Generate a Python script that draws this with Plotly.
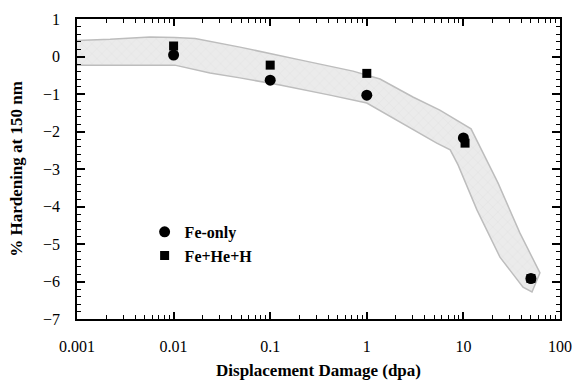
import plotly.graph_objects as go

# Data
fe_only_x = [0.01, 0.1, 1, 10, 50]
fe_only_y = [0.04, -0.63, -1.03, -2.17, -5.92]
fe_he_h_x = [0.01, 0.1, 1, 10.4, 50]
fe_he_h_y = [0.28, -0.23, -0.45, -2.31, -5.92]

# scatter band polygon (dpa, % hardening)
band_x = [0.00093, 0.001, 0.0022, 0.0057, 0.0103, 0.0167, 0.0486, 0.107, 0.203, 0.72,
          1.37, 3.0, 5.7, 12.0, 22.8, 38.5, 62, 51.3, 41.4, 23.9, 13.8, 8.8, 7.3, 5.3,
          1.37, 1.0, 0.416, 0.126, 0.0486, 0.0238, 0.0103, 0.001, 0.00093]
band_y = [0.09, 0.43, 0.46, 0.52, 0.51, 0.48, 0.25, 0.07, -0.09, -0.39,
          -0.6, -1.08, -1.43, -1.93, -3.37, -4.71, -5.77, -6.28, -6.15, -5.35, -4.09, -2.89, -2.49, -2.31,
          -1.45, -1.24, -1.03, -0.76, -0.57, -0.44, -0.23, -0.23, 0.09]

x_tickvals = [0.001, 0.01, 0.1, 1, 10, 100]
x_ticktext = ["0.001", "0.01", "0.1", "1", "10", "100"]
y_tickvals = [1, 0, -1, -2, -3, -4, -5, -6, -7]

FONT = "Liberation Serif"

fig = go.Figure()
fig.add_trace(go.Scatter(
    x=band_x, y=band_y, mode="lines", fill="toself",
    fillcolor="#ebebeb",
    fillpattern=dict(shape="x", fgcolor="#cdcdcd", bgcolor="#ebebeb", size=7, solidity=0.1),
    line=dict(color="#bdbdbd", width=1.5),
    showlegend=False, hoverinfo="skip"))
fig.add_trace(go.Scatter(
    x=fe_he_h_x, y=fe_he_h_y, mode="markers", name="Fe+He+H",
    marker=dict(symbol="square", size=9, color="black")))
fig.add_trace(go.Scatter(
    x=fe_only_x, y=fe_only_y, mode="markers", name="Fe-only",
    marker=dict(symbol="circle", size=11, color="black")))

fig.update_layout(
    width=573, height=382,
    margin=dict(l=77, r=13, t=19, b=63),
    paper_bgcolor="white", plot_bgcolor="white",
    font=dict(family=FONT, color="black", size=16),
    legend=dict(x=0.14, y=0.347, xanchor="left", yanchor="top",
                traceorder="reversed",
                font=dict(family=FONT, size=16, color="black", weight="bold"),
                bgcolor="rgba(0,0,0,0)", itemwidth=30, tracegroupgap=0),
    showlegend=True,
)
fig.update_xaxes(
    type="log", range=[-3, 2], automargin=False,
    tickvals=x_tickvals, ticktext=x_ticktext,
    ticks="inside", ticklen=7, tickwidth=1.5, tickcolor="black",
    showline=True, linecolor="black", linewidth=1.5, mirror="allticks",
    showgrid=False, zeroline=False,
    minor=dict(ticks="inside", ticklen=4, tickwidth=1.2, tickcolor="black",
               tickvals=[m * 10 ** e for e in range(-3, 2) for m in range(2, 10)],
               showgrid=False),
    tickfont=dict(size=16, family=FONT),
    ticklabelstandoff=12,
    title=dict(text="<b>Displacement Damage (dpa)</b>", font=dict(size=17, family=FONT), standoff=10),
)
fig.update_yaxes(
    range=[-7, 1], automargin=False,
    tickvals=y_tickvals,
    ticks="inside", ticklen=8, tickwidth=1.5, tickcolor="black",
    showline=True, linecolor="black", linewidth=1.5, mirror="allticks",
    showgrid=False, zeroline=False,
    minor=dict(ticks="inside", ticklen=4, tickwidth=1.2, tickcolor="black", dtick=0.2,
               showgrid=False),
    tickfont=dict(size=16, family=FONT),
    ticklabelstandoff=12,
    title=dict(text="<b>% Hardening at 150 nm</b>", font=dict(size=17, family=FONT), standoff=16),
)

fig.write_html("out.html", config={"displayModeBar": False},
               post_script="document.body.style.margin='0';")
